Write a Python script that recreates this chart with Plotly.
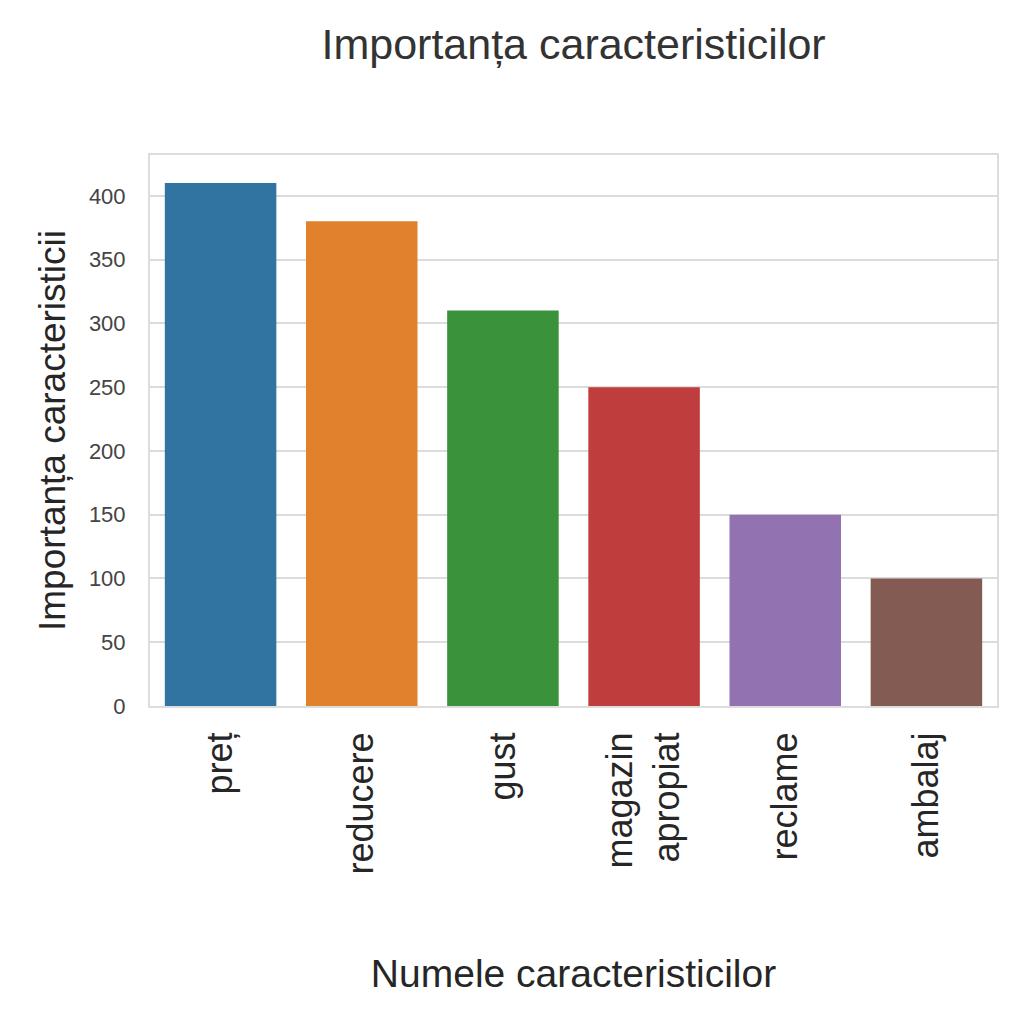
import plotly.graph_objects as go

# feature names and their importance scores
categorii = ["preț", "reducere", "gust", "magazin<br>apropiat", "reclame", "ambalaj"]
importanta = [410, 380, 310, 250, 150, 100]
culori = ["#3274a1", "#e1812c", "#3a923a", "#c03d3e", "#9372b2", "#845b53"]
y_ticks = [0, 50, 100, 150, 200, 250, 300, 350, 400]

fig = go.Figure(data=[go.Bar(
    x=categorii,
    y=importanta,
    marker=dict(color=culori, line=dict(width=0)),
    width=0.79,
)])

fig.update_layout(
    width=1034, height=1024,
    margin=dict(l=142, r=45, t=147, b=326),
    paper_bgcolor="white", plot_bgcolor="white",
    showlegend=False,
    font=dict(family="Liberation Sans, Arial, sans-serif", color="#262626"),
    title=dict(
        text="Importanța caracteristicilor",
        x=0.547, xanchor="center", y=0.965, yanchor="middle",
        font=dict(size=43, color="#333333"),
    ),
)
fig.update_xaxes(
    range=[-0.5, 5.5],
    tickangle=-90,
    tickfont=dict(size=36, color="#262626"),
    ticks="", ticklabelstandoff=10,
    showgrid=False,
    showline=True, linecolor="#dddddd", linewidth=2, mirror=True,
    title=dict(text="Numele caracteristicilor", standoff=86,
               font=dict(size=39, color="#262626")),
)
fig.update_yaxes(
    range=[0, 432],
    tickvals=y_ticks,
    tickfont=dict(size=22, color="#444444"),
    ticks="", ticklabelstandoff=18,
    showgrid=True, gridcolor="#dcdcdc", gridwidth=1.5,
    zeroline=False,
    showline=True, linecolor="#dddddd", linewidth=2, mirror=True,
    title=dict(text="Importanța caracteristicii", standoff=12,
               font=dict(size=37, color="#262626")),
)

fig.write_html("out.html")
